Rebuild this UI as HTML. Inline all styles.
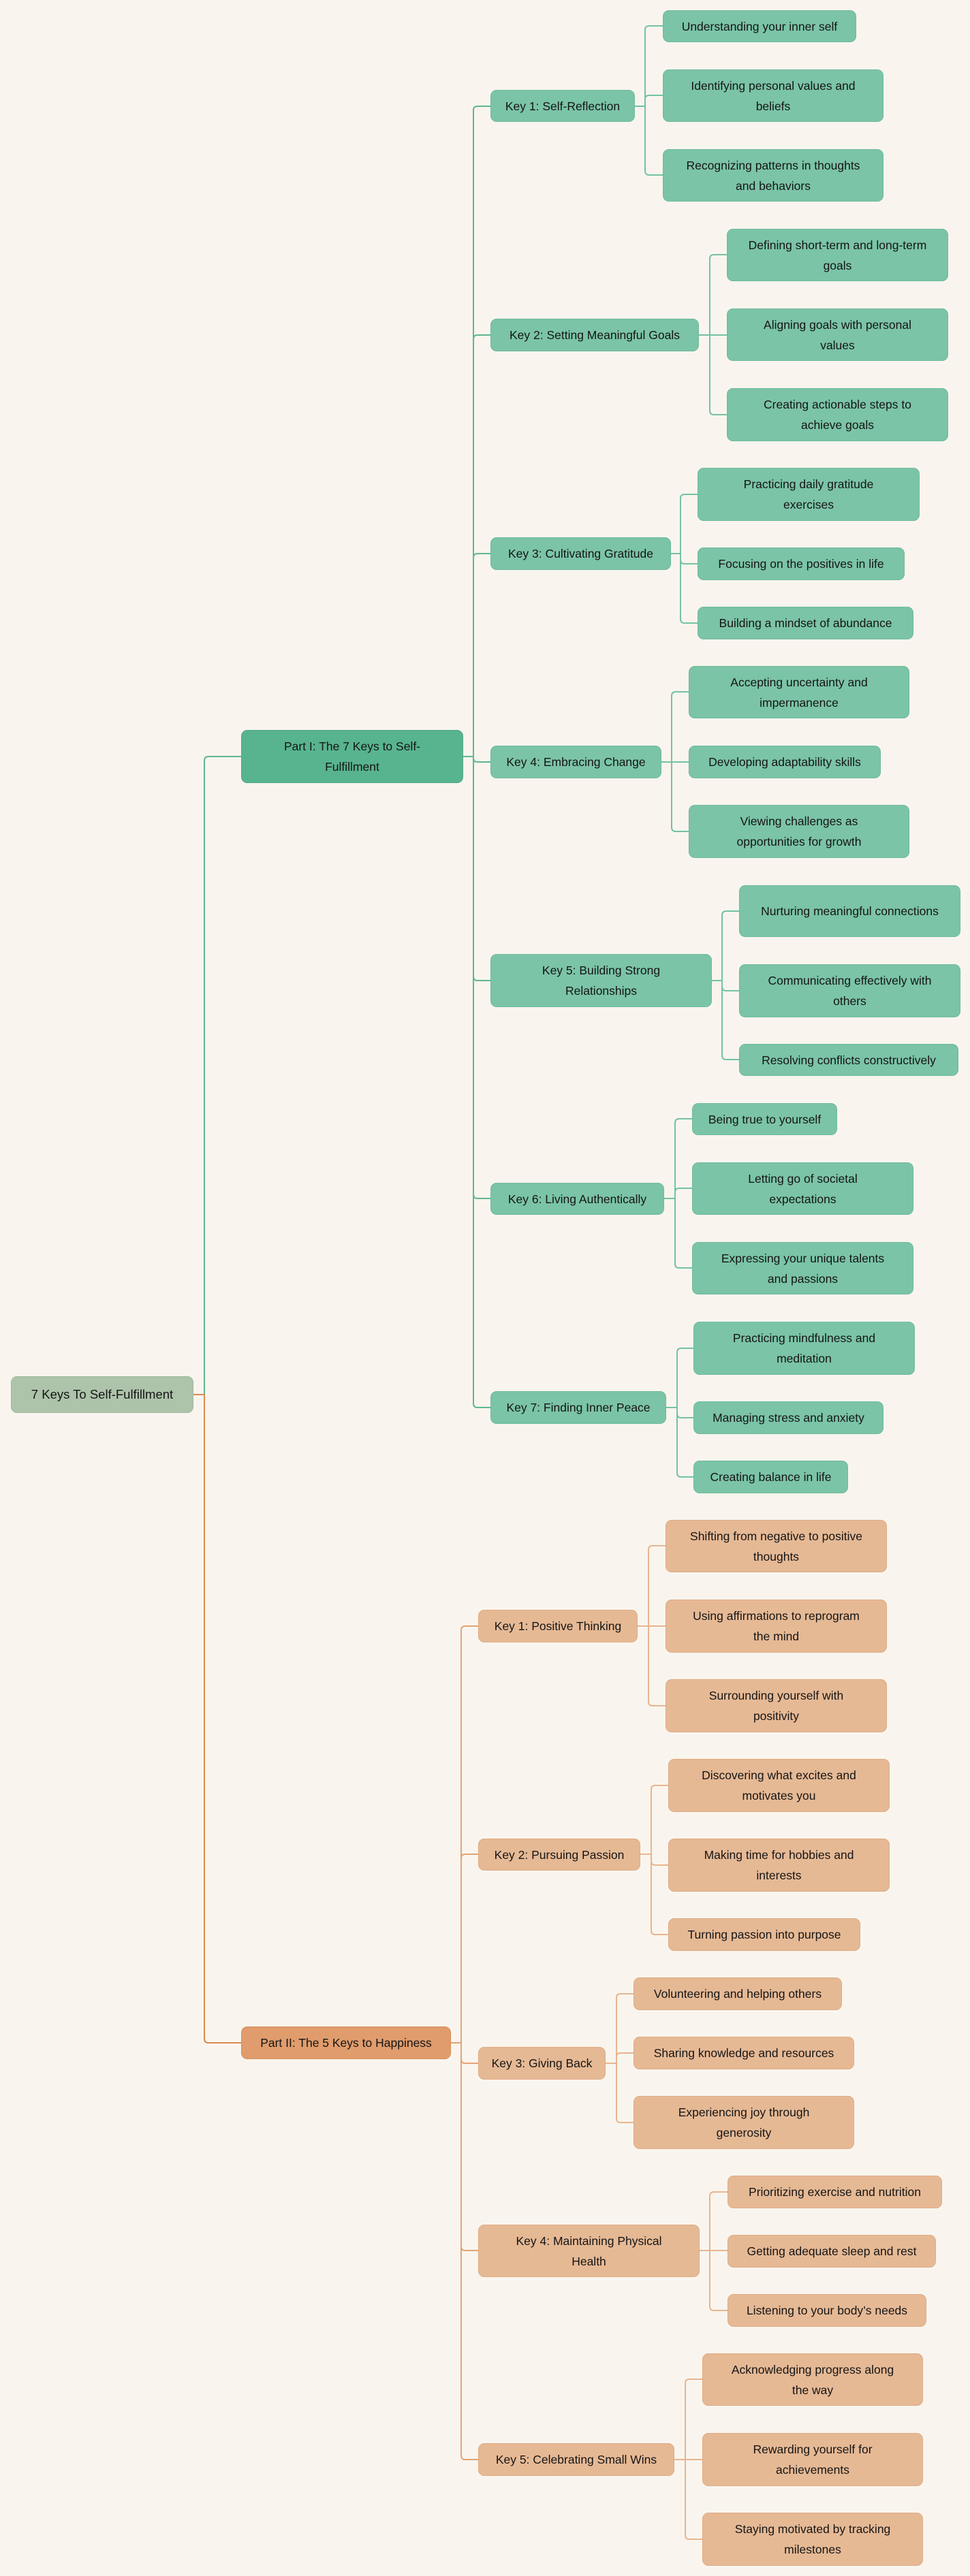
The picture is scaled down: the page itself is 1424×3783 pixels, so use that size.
<!DOCTYPE html>
<html><head><meta charset="utf-8"><style>
html,body{margin:0;padding:0;background:#f9f5ee;}
body{width:1424px;height:3783px;position:relative;overflow:hidden;font-family:"Liberation Sans",Arial,sans-serif;}
.n{position:absolute;box-sizing:border-box;border-radius:9px;display:flex;align-items:center;justify-content:center;text-align:center;font-size:17.5px;line-height:30px;color:#151515;white-space:nowrap;padding:0 10px;}
.g{background:#7bc4a7;border:1px solid #6fba9c;}
.gp{background:#58b48e;border:1px solid #4fa883;}
.o{background:#e6b995;border:1px solid #dfab82;}
.op{background:#e09c6c;border:1px solid #d48d5b;}
.r{background:#adc3aa;border:1px solid #a2b99f;}
svg{position:absolute;left:0;top:0;}
</style></head><body>
<svg width="1424" height="3783" fill="none" stroke-width="2">
<g stroke="#5fb690">
<path d="M300 2048 V1117 Q300 1111 306 1111 H354"/>
<path d="M680 1111 H695 M695 1111 V162 Q695 156 701 156 H720 M695 1111 V498 Q695 492 701 492 H720 M695 1111 V819 Q695 813 701 813 H720 M695 1111 V1113 Q695 1119 701 1119 H720 M695 1111 V1434 Q695 1440 701 1440 H720 M695 1111 V1754 Q695 1760 701 1760 H720 M695 1111 V2061 Q695 2067 701 2067 H720"/>
</g>
<g stroke="#74c2a3">
<path d="M932 156 H947 M947 156 V44 Q947 38 953 38 H973 M947 156 V146 Q947 140 953 140 H973 M947 156 V251 Q947 257 953 257 H973"/>
<path d="M1026 492 H1042 M1042 492 V380 Q1042 374 1048 374 H1067 M1042 492 H1067 M1042 492 V603 Q1042 609 1048 609 H1067"/>
<path d="M985 813 H999 M999 813 V732 Q999 726 1005 726 H1024 M999 813 V822 Q999 828 1005 828 H1024 M999 813 V909 Q999 915 1005 915 H1024"/>
<path d="M971 1119 H986 M986 1119 V1022 Q986 1016 992 1016 H1011 M986 1119 H1011 M986 1119 V1215 Q986 1221 992 1221 H1011"/>
<path d="M1045 1440 H1060 M1060 1440 V1344 Q1060 1338 1066 1338 H1085 M1060 1440 V1449 Q1060 1455 1066 1455 H1085 M1060 1440 V1550 Q1060 1556 1066 1556 H1085"/>
<path d="M975 1760 H991 M991 1760 V1649 Q991 1643 997 1643 H1016 M991 1760 V1751 Q991 1745 997 1745 H1016 M991 1760 V1856 Q991 1862 997 1862 H1016"/>
<path d="M978 2067 H994 M994 2067 V1986 Q994 1980 1000 1980 H1018 M994 2067 V2076 Q994 2082 1000 2082 H1018 M994 2067 V2163 Q994 2169 1000 2169 H1018"/>
</g>
<g stroke="#d98a50">
<path d="M284 2048 H300 M300 2048 V2994 Q300 3000 306 3000 H354"/>
</g>
<g stroke="#e3a373">
<path d="M662 3000 H677 M677 3000 V2394 Q677 2388 683 2388 H702 M677 3000 V2729 Q677 2723 683 2723 H702 M677 3000 V3024 Q677 3030 683 3030 H702 M677 3000 V3299 Q677 3305 683 3305 H702 M677 3000 V3606 Q677 3612 683 3612 H702"/>
</g>
<g stroke="#e8b58e">
<path d="M936 2388 H952 M952 2388 V2276 Q952 2270 958 2270 H977 M952 2388 H977 M952 2388 V2499 Q952 2505 958 2505 H977"/>
<path d="M940 2723 H956 M956 2723 V2628 Q956 2622 962 2622 H981 M956 2723 V2733 Q956 2739 962 2739 H981 M956 2723 V2835 Q956 2841 962 2841 H981"/>
<path d="M889 3030 H905 M905 3030 V2934 Q905 2928 911 2928 H930 M905 3030 V3021 Q905 3015 911 3015 H930 M905 3030 V3111 Q905 3117 911 3117 H930"/>
<path d="M1027 3305 H1042 M1042 3305 V3225 Q1042 3219 1048 3219 H1068 M1042 3305 H1068 M1042 3305 V3387 Q1042 3393 1048 3393 H1068"/>
<path d="M990 3612 H1006 M1006 3612 V3500 Q1006 3494 1012 3494 H1031 M1006 3612 H1031 M1006 3612 V3723 Q1006 3729 1012 3729 H1031"/>
</g>
</svg>

<div class="n r" style="left:16px;top:2021px;width:268px;height:54px;font-size:18.5px">7 Keys To Self-Fulfillment</div>

<div class="n gp" style="left:354px;top:1072px;width:326px;height:78px">Part I: The 7 Keys to Self-<br>Fulfillment</div>

<div class="n g" style="left:720px;top:132px;width:212px;height:47px">Key 1: Self-Reflection</div>
<div class="n g" style="left:973px;top:15px;width:284px;height:47px">Understanding your inner self</div>
<div class="n g" style="left:973px;top:102px;width:324px;height:77px">Identifying personal values and<br>beliefs</div>
<div class="n g" style="left:973px;top:219px;width:324px;height:77px">Recognizing patterns in thoughts<br>and behaviors</div>

<div class="n g" style="left:720px;top:468px;width:306px;height:48px">Key 2: Setting Meaningful Goals</div>
<div class="n g" style="left:1067px;top:336px;width:325px;height:77px">Defining short-term and long-term<br>goals</div>
<div class="n g" style="left:1067px;top:453px;width:325px;height:77px">Aligning goals with personal<br>values</div>
<div class="n g" style="left:1067px;top:570px;width:325px;height:78px">Creating actionable steps to<br>achieve goals</div>

<div class="n g" style="left:720px;top:789px;width:265px;height:48px">Key 3: Cultivating Gratitude</div>
<div class="n g" style="left:1024px;top:687px;width:326px;height:78px">Practicing daily gratitude<br>exercises</div>
<div class="n g" style="left:1024px;top:804px;width:304px;height:48px">Focusing on the positives in life</div>
<div class="n g" style="left:1024px;top:891px;width:317px;height:48px">Building a mindset of abundance</div>

<div class="n g" style="left:720px;top:1095px;width:251px;height:48px">Key 4: Embracing Change</div>
<div class="n g" style="left:1011px;top:978px;width:324px;height:77px">Accepting uncertainty and<br>impermanence</div>
<div class="n g" style="left:1011px;top:1095px;width:282px;height:48px">Developing adaptability skills</div>
<div class="n g" style="left:1011px;top:1182px;width:324px;height:78px">Viewing challenges as<br>opportunities for growth</div>

<div class="n g" style="left:720px;top:1401px;width:325px;height:78px">Key 5: Building Strong<br>Relationships</div>
<div class="n g" style="left:1085px;top:1300px;width:325px;height:76px">Nurturing meaningful connections</div>
<div class="n g" style="left:1085px;top:1416px;width:325px;height:78px">Communicating effectively with<br>others</div>
<div class="n g" style="left:1085px;top:1533px;width:322px;height:47px">Resolving conflicts constructively</div>

<div class="n g" style="left:720px;top:1737px;width:255px;height:47px">Key 6: Living Authentically</div>
<div class="n g" style="left:1016px;top:1620px;width:213px;height:47px">Being true to yourself</div>
<div class="n g" style="left:1016px;top:1707px;width:325px;height:77px">Letting go of societal<br>expectations</div>
<div class="n g" style="left:1016px;top:1824px;width:325px;height:77px">Expressing your unique talents<br>and passions</div>

<div class="n g" style="left:720px;top:2043px;width:258px;height:48px">Key 7: Finding Inner Peace</div>
<div class="n g" style="left:1018px;top:1941px;width:325px;height:78px">Practicing mindfulness and<br>meditation</div>
<div class="n g" style="left:1018px;top:2058px;width:279px;height:48px">Managing stress and anxiety</div>
<div class="n g" style="left:1018px;top:2145px;width:227px;height:48px">Creating balance in life</div>

<div class="n op" style="left:354px;top:2976px;width:308px;height:48px">Part II: The 5 Keys to Happiness</div>

<div class="n o" style="left:702px;top:2364px;width:234px;height:48px">Key 1: Positive Thinking</div>
<div class="n o" style="left:977px;top:2232px;width:325px;height:77px">Shifting from negative to positive<br>thoughts</div>
<div class="n o" style="left:977px;top:2349px;width:325px;height:78px">Using affirmations to reprogram<br>the mind</div>
<div class="n o" style="left:977px;top:2466px;width:325px;height:78px">Surrounding yourself with<br>positivity</div>

<div class="n o" style="left:702px;top:2700px;width:238px;height:47px">Key 2: Pursuing Passion</div>
<div class="n o" style="left:981px;top:2583px;width:325px;height:78px">Discovering what excites and<br>motivates you</div>
<div class="n o" style="left:981px;top:2700px;width:325px;height:78px">Making time for hobbies and<br>interests</div>
<div class="n o" style="left:981px;top:2817px;width:282px;height:48px">Turning passion into purpose</div>

<div class="n o" style="left:702px;top:3006px;width:187px;height:48px">Key 3: Giving Back</div>
<div class="n o" style="left:930px;top:2904px;width:306px;height:48px">Volunteering and helping others</div>
<div class="n o" style="left:930px;top:2991px;width:324px;height:48px">Sharing knowledge and resources</div>
<div class="n o" style="left:930px;top:3078px;width:324px;height:78px">Experiencing joy through<br>generosity</div>

<div class="n o" style="left:702px;top:3267px;width:325px;height:77px">Key 4: Maintaining Physical<br>Health</div>
<div class="n o" style="left:1068px;top:3195px;width:315px;height:48px">Prioritizing exercise and nutrition</div>
<div class="n o" style="left:1068px;top:3282px;width:306px;height:48px">Getting adequate sleep and rest</div>
<div class="n o" style="left:1068px;top:3369px;width:292px;height:48px">Listening to your body’s needs</div>

<div class="n o" style="left:702px;top:3588px;width:288px;height:48px">Key 5: Celebrating Small Wins</div>
<div class="n o" style="left:1031px;top:3456px;width:324px;height:77px">Acknowledging progress along<br>the way</div>
<div class="n o" style="left:1031px;top:3573px;width:324px;height:78px">Rewarding yourself for<br>achievements</div>
<div class="n o" style="left:1031px;top:3690px;width:324px;height:78px">Staying motivated by tracking<br>milestones</div>
</body></html>
